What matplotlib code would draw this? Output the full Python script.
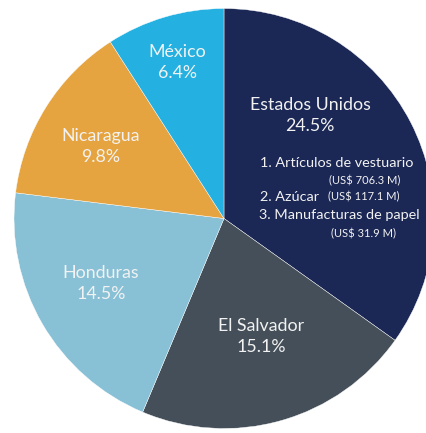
import matplotlib.pyplot as plt

# datos
paises = ["Estados Unidos", "El Salvador", "Honduras", "Nicaragua", "México"]
porcentajes = [24.5, 15.1, 14.5, 9.8, 6.4]
colores = ["#1b2755", "#444f59", "#88c0d6", "#e6a440", "#24b1e1"]

productos = ["1. Artículos de vestuario", "2. Azúcar", "3. Manufacturas de papel"]
montos = ["(US$ 706.3 M)", "(US$ 117.1 M)", "(US$ 31.9 M)"]

plt.rcParams["font.family"] = ["Lato", "DejaVu Sans"]

W, H = 426, 433
fig = plt.figure(figsize=(W / 100, H / 100), dpi=100)
ax = fig.add_axes([0, 0, 1, 1])

ax.pie(porcentajes, colors=colores, startangle=90, counterclock=False,
       radius=1, wedgeprops=dict(linewidth=0.3, edgecolor="white"))

# centro del pie en pixeles y radio
cx, cy, r = 224, 218.5, 210
ax.set_xlim(-cx / r, (W - cx) / r)
ax.set_ylim(-(H - cy) / r, cy / r)
ax.set_aspect("auto")
ax.axis("off")


def px(x, y):
    return (x - cx) / r, (cy - y) / r


txt = dict(color="#f2f2f2", fontweight="normal")

# posiciones de etiquetas (pixeles)
pos_etiquetas = [(310, 105), (261, 326), (101, 273), (101, 136), (177, 52)]
for nombre, pct, (x, y) in zip(paises, porcentajes, pos_etiquetas):
    ax.text(*px(x, y), nombre, ha="center", va="center", fontsize=12.8, **txt)
    ax.text(*px(x, y + 21), f"{pct}%", ha="center", va="center",
            fontsize=12.8, **txt)

# lista de productos
fs_item = 10.4
fs_monto = 8
ax.text(*px(260, 163), productos[0], ha="left", va="center", fontsize=fs_item, **txt)
ax.text(*px(400, 181), montos[0], ha="right", va="center", fontsize=fs_monto, **txt)
ax.text(*px(260, 197), productos[1], ha="left", va="center", fontsize=fs_item, **txt)
ax.text(*px(400, 197), montos[1], ha="right", va="center", fontsize=fs_monto, **txt)
ax.text(*px(259, 215), productos[2], ha="left", va="center", fontsize=fs_item, **txt)
ax.text(*px(396, 234), montos[2], ha="right", va="center", fontsize=fs_monto, **txt)

fig.savefig("out.png", dpi=100, facecolor="white")
